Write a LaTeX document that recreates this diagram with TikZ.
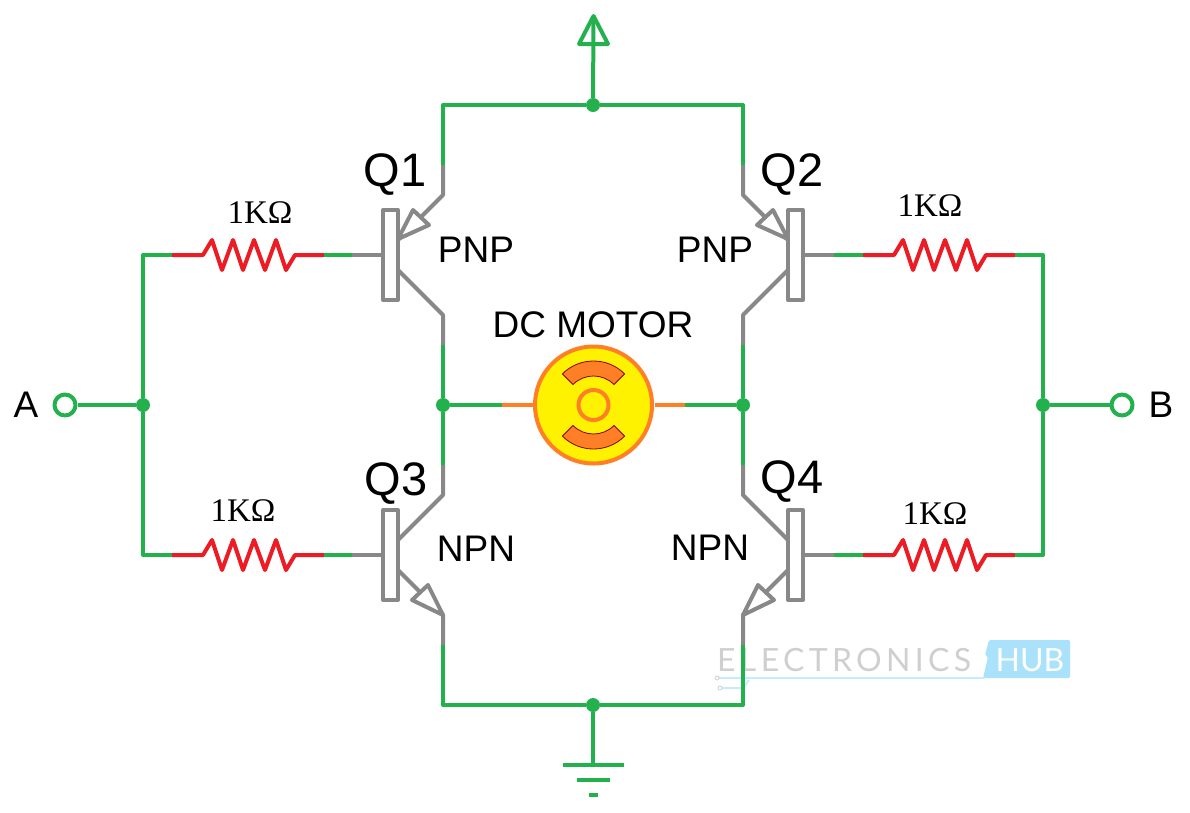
\documentclass[tikz,border=0pt]{standalone}
\usepackage{fontspec}
\setmainfont{Liberation Sans}
\newfontfamily\ohmfont{Liberation Serif}
\newfontfamily\hubfont{Lato}
\definecolor{wiregreen}{HTML}{22B14C}
\definecolor{leadgray}{HTML}{888888}
\definecolor{resred}{HTML}{ED1C24}
\definecolor{motororange}{HTML}{FF7F27}
\definecolor{motoryellow}{HTML}{FFF200}
\definecolor{poledark}{HTML}{880015}
\definecolor{hubblue}{HTML}{A9E2FA}
\definecolor{hubline}{HTML}{C4ECFC}
\definecolor{hubgray}{HTML}{CFCFCF}
\tikzset{
  wire/.style={draw=wiregreen, line width=4pt, line join=round},
  lead/.style={draw=leadgray, line width=4pt, line join=round},
  res/.style={draw=resred, line width=4pt, line join=round},
  morange/.style={draw=motororange, line width=4pt},
  dot/.style={circle, fill=wiregreen, inner sep=0pt, minimum size=14pt},
  lab/.style={font=\fontsize{37}{37}\selectfont, text=black, inner sep=0pt},
  qlab/.style={font=\fontsize{47}{47}\selectfont, text=black, inner sep=0pt},
  rlab/.style={font=\ohmfont\fontsize{33}{33}\selectfont, text=black, inner sep=0pt},
  pics/pnp/.style={code={
    \coordinate (-g) at (-91,0);
    \coordinate (-t) at (0,-90);
    \coordinate (-b) at (0,90);
    \draw[lead] (-45,0) -- (-g);
    \draw[lead] (-45,15) -- (0,60) -- (-b);
    \draw[lead] (-45,-15) -- (0,-60) -- (-t);
    \draw[lead, fill=white] (-45,-16) -- (-30,-45) -- (-14,-30) -- cycle;
    \draw[lead, fill=white] (-60,-45) rectangle (-45,45);
  }},
  pics/npn/.style={code={
    \coordinate (-g) at (-91,0);
    \coordinate (-t) at (0,-90);
    \coordinate (-b) at (0,90);
    \draw[lead] (-45,0) -- (-g);
    \draw[lead] (-45,-15) -- (0,-60) -- (-t);
    \draw[lead] (-45,15) -- (0,60) -- (-b);
    \draw[lead, fill=white] (0,60) -- (-15,30) -- (-31,45) -- cycle;
    \draw[lead, fill=white] (-60,-45) rectangle (-45,45);
  }},
  pics/resistor/.style={code={
    \coordinate (-a) at (0,0);
    \coordinate (-b) at (152,0);
    \draw[res] (-a) -- (31,0) -- (40,-15) -- (50,15) -- (61,-15) -- (71,15)
      -- (82,-15) -- (93,15) -- (104,-15) -- (114,15) -- (123,0) -- (-b);
  }},
}
\begin{document}
\begin{tikzpicture}[x=1pt,y=-1pt]
\useasboundingbox (0,0) rectangle (1190,812);

% watermark goes under the wires
\node[font=\hubfont\fontsize{32}{32}\selectfont\addfontfeature{LetterSpace=13.5}, text=hubgray, inner sep=0pt, anchor=west] (wmark) at (717,660) {ELECTRONICS};
\fill[hubblue, rounded corners=1.5pt] (989,640) -- (1070,640) -- (1070,678) -- (983,678) -- (988,657) -- (985,655) -- cycle;
\node[font=\hubfont\fontsize{32}{32}\selectfont, text=white, inner sep=0pt] (wmarkb) at (1030,660) {HUB};
\draw[hubline, line width=2pt] (719,678) -- (985,678);
\draw[hubline, line width=2pt] (722,688) -- (743,688) -- (749,680);
\draw[hubgray, line width=0.8pt] (717,678) circle (2);
\draw[hubgray, line width=0.8pt] (720,688) circle (2);

% transistors
\pic (q1) at (443,255) {pnp};
\pic[xscale=-1] (q2) at (743,255) {pnp};
\pic (q3) at (443,555) {npn};
\pic[xscale=-1] (q4) at (743,555) {npn};

% resistors
\pic (r1) at (172,255) {resistor};
\pic (r2) at (863,255) {resistor};
\pic (r3) at (172,555) {resistor};
\pic (r4) at (863,555) {resistor};

% junctions
\node[dot] (vcc) at (593,105) {};
\node[dot] (gnd) at (593,705) {};
\node[dot] (ml) at (443,405) {};
\node[dot] (mr) at (743,405) {};
\node[dot] (ina) at (143,405) {};
\node[dot] (inb) at (1043,405) {};

% motor
\coordinate (leadl) at (502,405);
\coordinate (leadr) at (685,405);
\draw[morange] (533,405) -- (leadl);
\draw[morange] (655,405) -- (leadr);
\node[circle, morange, fill=motoryellow, minimum size=117pt, inner sep=0pt] (motor) at (593.5,405) {};
\begin{scope}[shift={(593.5,405)}]
\draw[draw=poledark, fill=motororange, line width=0.8pt] (225:44) arc[start angle=225, end angle=315, radius=44] -- (315:29) arc[start angle=315, end angle=225, radius=29] -- cycle;
\draw[draw=poledark, fill=motororange, line width=0.8pt] (45:44) arc[start angle=45, end angle=135, radius=44] -- (135:29) arc[start angle=135, end angle=45, radius=29] -- cycle;
\draw[morange] (0,0) circle (15);
\end{scope}

% wires
\draw[wire] (q1-t) |- (vcc);
\draw[wire] (q2-t) |- (vcc);
\draw[wire] (q3-b) |- (gnd);
\draw[wire] (q4-b) |- (gnd);
\draw[wire] (q1-b) -- (ml);
\draw[wire] (q3-t) -- (ml);
\draw[wire] (q2-b) -- (mr);
\draw[wire] (q4-t) -- (mr);
\draw[wire] (ml) -- (leadl);
\draw[wire] (mr) -- (leadr);
\draw[wire] (r1-b) -- (q1-g);
\draw[wire] (r3-b) -- (q3-g);
\draw[wire] (r2-a) -- (q2-g);
\draw[wire] (r4-a) -- (q4-g);
\draw[wire] (r1-a) -| (ina);
\draw[wire] (r3-a) -| (ina);
\draw[wire] (r2-b) -| (inb);
\draw[wire] (r4-b) -| (inb);

% inputs
\node[circle, wire, fill=white, minimum size=21pt, inner sep=0pt] (pa) at (65,405) {};
\node[circle, wire, fill=white, minimum size=21pt, inner sep=0pt] (pb) at (1122,405) {};
\draw[wire] (pa) -- (ina);
\draw[wire] (pb) -- (inb);

% supply arrow
\coordinate (vtip) at (593.5,16);
\coordinate (vl) at (579,44);
\coordinate (vr) at (608,44);
\draw[wire] (vcc) -- (vtip);
\draw[wire] (vl) -- (vtip) -- (vr) -- cycle;

% ground
\coordinate (g1) at (593,765);
\coordinate (g1l) at (563,765);
\coordinate (g1r) at (624,765);
\coordinate (g2l) at (577,780);
\coordinate (g2r) at (610,780);
\coordinate (g3l) at (589,795);
\coordinate (g3r) at (598,795);
\draw[wire] (gnd) -- (g1);
\draw[wire] (g1l) -- (g1r);
\draw[wire] (g2l) -- (g2r);
\draw[wire] (g3l) -- (g3r);

% labels
\node[qlab] (lq1) at (395,175) {Q1};
\node[qlab] (lq2) at (792,175) {Q2};
\node[qlab] (lq3) at (396,484) {Q3};
\node[qlab] (lq4) at (792,482) {Q4};
\node[lab] (lp1) at (476,250) {PNP};
\node[lab] (lp2) at (715,250) {PNP};
\node[lab] (ln1) at (476,549) {NPN};
\node[lab] (ln2) at (710,548) {NPN};
\node[lab] (lm) at (593,325) {DC MOTOR};
\node[lab] (la) at (26,405) {A};
\node[lab] (lb) at (1161,405) {B};
\node[rlab] (lr1) at (260,213) {1KΩ};
\node[rlab] (lr2) at (930,206) {1KΩ};
\node[rlab] (lr3) at (243,511) {1KΩ};
\node[rlab] (lr4) at (935,514) {1KΩ};
\end{tikzpicture}
\end{document}
